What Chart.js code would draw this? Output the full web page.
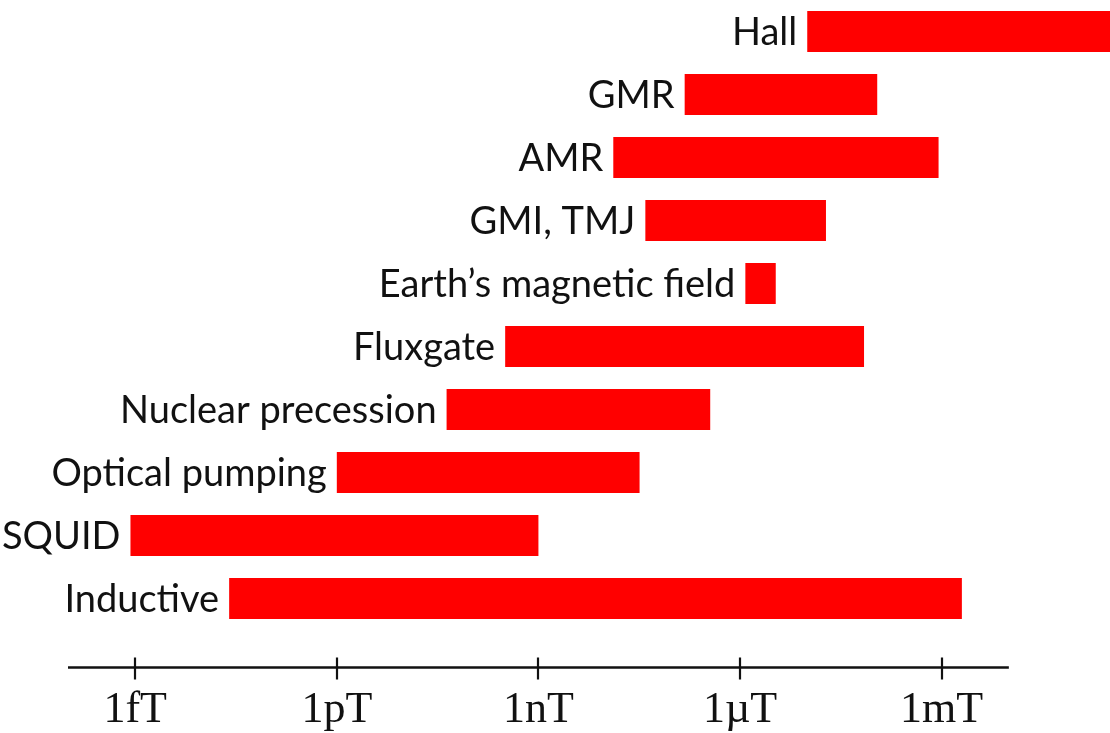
<!DOCTYPE html>
<html>
<head>
<meta charset="utf-8">
<script src="https://cdn.jsdelivr.net/npm/chart.js@4/dist/chart.umd.min.js"></script>
<style>
  html, body { margin: 0; padding: 0; background: #ffffff; }
  #c { display: block; }
</style>
</head>
<body>
<canvas id="c" width="1110" height="733"></canvas>
<script>
// Sensor names, top to bottom
const sensors = ['Hall', 'GMR', 'AMR', 'GMI, TMJ', 'Earth’s magnetic field', 'Fluxgate',
                 'Nuclear precession', 'Optical pumping', 'SQUID', 'Inductive'];
// Lower and upper end of each detectable field range, in tesla
const rangeLow  = [1e-5, 1.5e-7, 1.3e-8, 3.9e-8, 1.2e-6, 3.2e-10, 4.3e-11, 1e-12, 8.5e-16, 2.5e-14];
const rangeHigh = [1,    1.1e-4, 9e-4,   1.9e-5, 3.4e-6, 7e-5,    3.6e-7,  3.2e-8, 1e-9,   2e-3];
// Axis ticks
const tickValues = [1e-15, 1e-12, 1e-9, 1e-6, 1e-3];
const tickLabels = ['1fT', '1pT', '1nT', '1µT', '1mT'];
// Extent of the drawn axis line
const axisSpan = [1e-16, 1e-2];

const LABEL_FONT = '38px Lato, "Open Sans", sans-serif';

// Category names written just left of each bar
const barLabels = {
  id: 'barLabels',
  afterDatasetsDraw(chart) {
    const ctx = chart.ctx;
    const meta = chart.getDatasetMeta(0);
    ctx.save();
    ctx.font = LABEL_FONT;
    ctx.fillStyle = '#111111';
    ctx.textAlign = 'right';
    ctx.textBaseline = 'middle';
    meta.data.forEach((bar, i) => {
      const left = Math.min(bar.base, bar.x);
      ctx.fillText(sensors[i], left - 10, bar.y + 1);
    });
    ctx.restore();
  }
};

// Axis line with tick marks crossing it
const fieldAxis = {
  id: 'fieldAxis',
  afterDraw(chart) {
    const s = chart.scales.x;
    const ctx = chart.ctx;
    const y = s.top + 37.5;
    ctx.save();
    ctx.strokeStyle = '#111111';
    ctx.lineWidth = 2.6;
    ctx.beginPath();
    ctx.moveTo(s.getPixelForValue(axisSpan[0]), y);
    ctx.lineTo(s.getPixelForValue(axisSpan[1]), y);
    ctx.stroke();
    ctx.lineWidth = 2.2;
    tickValues.forEach(v => {
      const x = Math.round(s.getPixelForValue(v));
      ctx.beginPath();
      ctx.moveTo(x, y - 10);
      ctx.lineTo(x, y + 12);
      ctx.stroke();
    });
    ctx.restore();
  }
};

new Chart(document.getElementById('c'), {
  type: 'bar',
  data: {
    labels: sensors,
    datasets: [{
      data: sensors.map((_, i) => [rangeLow[i], rangeHigh[i]]),
      backgroundColor: '#ff0000',
      borderWidth: 0,
      borderSkipped: false,
      categoryPercentage: 1,
      barPercentage: 0.65
    }]
  },
  options: {
    indexAxis: 'y',
    responsive: false,
    animation: false,
    devicePixelRatio: 1,
    layout: { padding: { left: 68, right: 0, top: 0, bottom: 0 } },
    plugins: { legend: { display: false }, tooltip: { enabled: false } },
    scales: {
      x: {
        type: 'logarithmic',
        min: 1e-16,
        max: 0.32,
        border: { display: false },
        grid: { display: false, drawTicks: false },
        afterBuildTicks(scale) {
          scale.ticks = tickValues.map(v => ({ value: v }));
        },
        afterFit(scale) {
          scale.height = 103;
        },
        ticks: {
          autoSkip: false,
          maxRotation: 0,
          padding: 58,
          color: '#111111',
          font: { family: '"Liberation Serif", "Times New Roman", serif', size: 44, lineHeight: 1 },
          callback(value) {
            const i = tickValues.findIndex(t => Math.abs(Math.log10(t) - Math.log10(value)) < 1e-6);
            return i >= 0 ? tickLabels[i] : '';
          }
        }
      },
      y: {
        type: 'category',
        display: false
      }
    }
  },
  plugins: [barLabels, fieldAxis]
});
</script>
</body>
</html>
